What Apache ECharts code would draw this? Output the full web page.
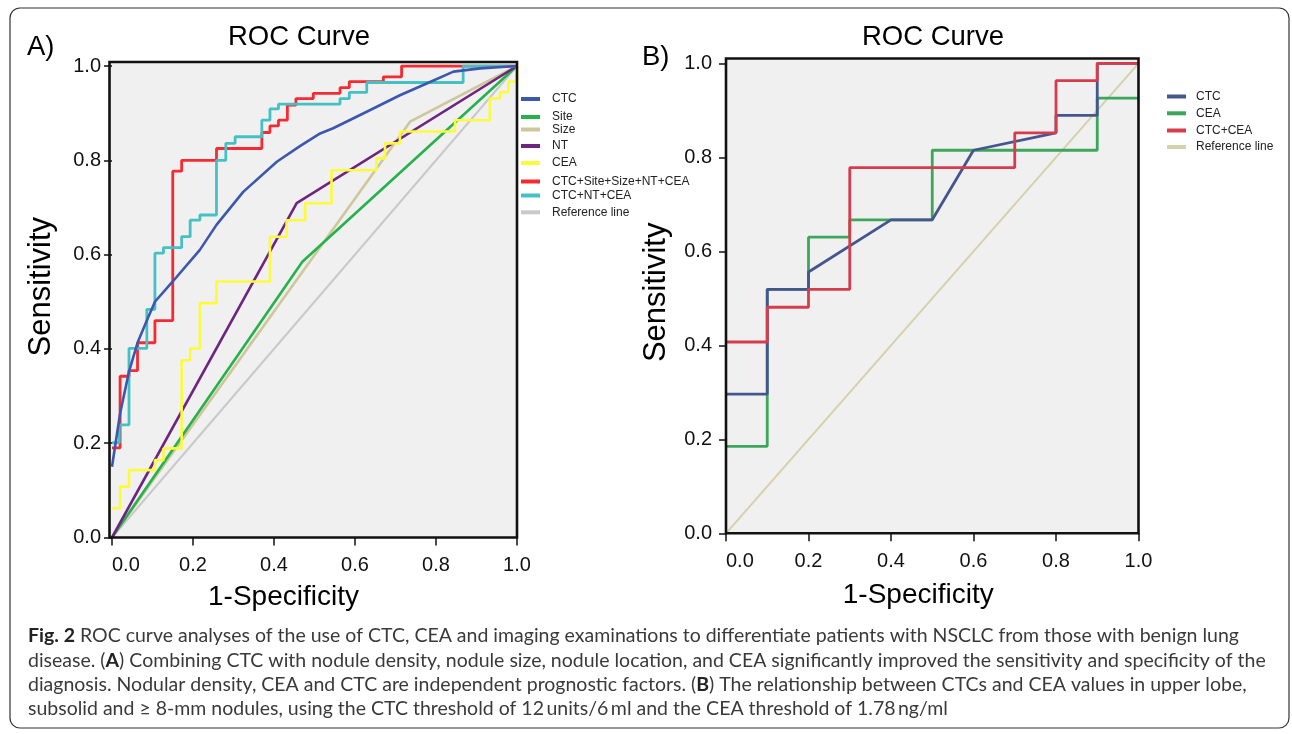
<!DOCTYPE html>
<html><head><meta charset="utf-8">
<script src="https://cdn.jsdelivr.net/npm/echarts@6/dist/echarts.min.js"></script>
<style>html,body{margin:0;padding:0;background:#fff}#c{width:1292px;height:734px}</style>
</head><body><div id="c"></div>
<script>
// ---------- DATA ----------
const tickLabels = ['0.0', '0.2', '0.4', '0.6', '0.8', '1.0'];

// Panel A series (x = 1-Specificity, y = Sensitivity)
const namesA = ['CTC', 'Site', 'Size', 'NT', 'CEA', 'CTC+Site+Size+NT+CEA', 'CTC+NT+CEA', 'Reference line'];
const ctcA = [[0,0.15],[0.02,0.263],[0.042,0.352],[0.063,0.413],[0.086,0.46],[0.106,0.5],[0.15,0.543],[0.217,0.61],[0.258,0.663],[0.324,0.733],[0.407,0.797],[0.464,0.83],[0.514,0.857],[0.546,0.868],[0.629,0.903],[0.711,0.938],[0.777,0.963],[0.843,0.988],[0.909,0.995],[1,1]];
const siteA = [[0,0],[0.47,0.585],[1,1]];
const sizeA = [[0,0],[0.736,0.882],[1,1]];
const ntA = [[0,0],[0.456,0.709],[1,1]];
const ceaA = [[0,0.062],[0.02,0.062],[0.02,0.108],[0.042,0.108],[0.042,0.143],[0.106,0.143],[0.106,0.164],[0.127,0.164],[0.127,0.189],[0.172,0.189],[0.172,0.376],[0.193,0.376],[0.193,0.401],[0.217,0.401],[0.217,0.497],[0.258,0.497],[0.258,0.543],[0.39,0.543],[0.39,0.638],[0.431,0.638],[0.431,0.673],[0.477,0.673],[0.477,0.709],[0.542,0.709],[0.542,0.779],[0.653,0.779],[0.653,0.804],[0.674,0.804],[0.674,0.836],[0.711,0.836],[0.711,0.861],[0.847,0.861],[0.847,0.885],[0.933,0.885],[0.933,0.931],[0.958,0.931],[0.958,0.945],[0.979,0.945],[0.979,0.967],[1,0.967],[1,1]];
const allA = [[0,0.19],[0.02,0.19],[0.02,0.342],[0.042,0.342],[0.042,0.354],[0.063,0.354],[0.063,0.413],[0.106,0.413],[0.106,0.46],[0.15,0.46],[0.15,0.777],[0.172,0.777],[0.172,0.8],[0.258,0.8],[0.258,0.825],[0.37,0.825],[0.37,0.859],[0.39,0.859],[0.39,0.873],[0.411,0.873],[0.411,0.885],[0.433,0.885],[0.433,0.917],[0.454,0.917],[0.454,0.931],[0.497,0.931],[0.497,0.942],[0.563,0.942],[0.563,0.954],[0.586,0.954],[0.586,0.967],[0.67,0.967],[0.67,0.977],[0.715,0.977],[0.715,1],[1,1]];
const ctcNtCeaA = [[0,0.201],[0.018,0.201],[0.018,0.239],[0.042,0.239],[0.042,0.401],[0.086,0.401],[0.086,0.484],[0.106,0.484],[0.106,0.603],[0.127,0.603],[0.127,0.615],[0.172,0.615],[0.172,0.638],[0.193,0.638],[0.193,0.673],[0.217,0.673],[0.217,0.684],[0.258,0.684],[0.258,0.8],[0.281,0.8],[0.281,0.836],[0.304,0.836],[0.304,0.85],[0.37,0.85],[0.37,0.885],[0.39,0.885],[0.39,0.909],[0.411,0.909],[0.411,0.919],[0.563,0.919],[0.563,0.931],[0.586,0.931],[0.586,0.944],[0.629,0.944],[0.629,0.965],[0.867,0.965],[0.867,1],[1,1]];
const refA = [[0,0],[1,1]];

// Panel B series
const namesB = ['CTC', 'CEA', 'CTC+CEA', 'Reference line'];
const ctcB = [[0,0.296],[0.1,0.296],[0.1,0.519],[0.2,0.519],[0.2,0.556],[0.4,0.667],[0.5,0.667],[0.6,0.815],[0.8,0.852],[0.8,0.889],[0.9,0.889],[0.9,1],[1,1]];
const ceaB = [[0,0.185],[0.1,0.185],[0.1,0.519],[0.2,0.519],[0.2,0.63],[0.3,0.63],[0.3,0.667],[0.5,0.667],[0.5,0.815],[0.9,0.815],[0.9,0.926],[1,0.926]];
const ctcCeaB = [[0,0.407],[0.1,0.407],[0.1,0.481],[0.2,0.481],[0.2,0.519],[0.3,0.519],[0.3,0.778],[0.7,0.778],[0.7,0.852],[0.8,0.852],[0.8,0.963],[0.9,0.963],[0.9,1],[1,1]];
const refB = [[0,0],[1,1]];

// ---------- STYLE ----------
const FONT = '"Liberation Sans", Arial, sans-serif';
const CAPFONT = 'Lato, "Open Sans", sans-serif';
const colorsA = ['#3b57ae', '#25b24a', '#cdc79b', '#6e2580', '#fbfb3c', '#f52a33', '#45c0c4', '#c9c9c9'];
const colorsB = ['#45568e', '#3ea65a', '#d63c4c', '#d3d2aa'];

const chart = echarts.init(document.getElementById('c'), null, {width: 1292, height: 734});

const gridA = {left: 112, top: 66, width: 405, height: 471.5};
const gridB = {left: 726, top: 63.3, width: 412.5, height: 470};

function xAx(gi, gap, margin, shift) {
  return {type: 'value', gridIndex: gi, min: 0, max: 1, interval: 0.2,
    name: '1-Specificity', nameLocation: 'middle', nameGap: gap,
    nameTextStyle: {fontFamily: FONT, fontSize: 28, color: '#000', padding: [0, shift, 0, 0]},
    axisLine: {show: false},
    axisTick: {show: true, length: 8, lineStyle: {color: '#111', width: 1.5}},
    axisLabel: {margin: margin, fontFamily: FONT, fontSize: 20, color: '#111', alignMinLabel: 'left',
      formatter: v => tickLabels[Math.round(v * 5)]},
    splitLine: {show: false}};
}
function yAx(gi, gap, margin, tl, shift) {
  return {type: 'value', gridIndex: gi, min: 0, max: 1, interval: 0.2,
    name: 'Sensitivity', nameLocation: 'middle', nameGap: gap,
    nameTextStyle: {fontFamily: FONT, fontSize: 31, color: '#000', padding: [0, 0, 0, shift]},
    axisLine: {show: false},
    axisTick: {show: true, length: tl, lineStyle: {color: '#111', width: 1.5}},
    axisLabel: {margin: margin, fontFamily: FONT, fontSize: 20, color: '#111',
      formatter: v => tickLabels[Math.round(v * 5)]},
    splitLine: {show: false}};
}

function ser(name, data, color, width, gi, z) {
  return {type: 'line', name: name, data: data, xAxisIndex: gi, yAxisIndex: gi,
    symbol: 'none', silent: true, z: z,
    lineStyle: {color: color, width: width}, itemStyle: {color: color}};
}

const dataA = [ctcA, siteA, sizeA, ntA, ceaA, allA, ctcNtCeaA, refA];
const widthsA = [2.6, 2.6, 2.6, 2.6, 2.6, 2.8, 2.8, 2];
const zA = [9, 4, 3, 5, 6, 7, 8, 2];
const dataB = [ctcB, ceaB, ctcCeaB, refB];
const zB = [4, 3, 5, 2];

const series = [];
namesA.forEach((n, i) => series.push(ser(n, dataA[i], colorsA[i], widthsA[i], 0, zA[i])));
namesB.forEach((n, i) => series.push(ser(n, dataB[i], colorsB[i], i === 3 ? 2 : 2.8, 1, zB[i])));

const legendTopA = [100, 118, 130.5, 147, 164, 182.5, 196.5, 213.3];
const legendTopB = [97.5, 114.3, 131.5, 148];
const legends = [];
namesA.forEach((n, i) => legends.push({
  left: 521, top: legendTopA[i] - 7, padding: 0, icon: 'rect', itemWidth: 19, itemHeight: 4,
  selectedMode: false, data: [{name: n, itemStyle: {color: colorsA[i]}}],
  textStyle: {fontFamily: FONT, fontSize: 12, color: '#222', padding: [0, 0, 0, 7]}
}));
namesB.forEach((n, i) => legends.push({
  left: 1167, top: legendTopB[i] - 7, padding: 0, icon: 'rect', itemWidth: 19, itemHeight: 4,
  selectedMode: false, data: [{name: n, itemStyle: {color: colorsB[i]}}],
  textStyle: {fontFamily: FONT, fontSize: 12, color: '#222', padding: [0, 0, 0, 5]}
}));

const titleStyle = {fontFamily: FONT, fontSize: 27.5, fontWeight: 'normal', color: '#000'};
const titles = [
  {text: 'ROC Curve', left: 299, top: 37, textAlign: 'center', textVerticalAlign: 'middle', padding: 0, textStyle: titleStyle},
  {text: 'A)', left: 27, top: 47, textAlign: 'left', textVerticalAlign: 'middle', padding: 0, textStyle: titleStyle},
  {text: 'ROC Curve', left: 933, top: 37, textAlign: 'center', textVerticalAlign: 'middle', padding: 0, textStyle: titleStyle},
  {text: 'B)', left: 642, top: 57, textAlign: 'left', textVerticalAlign: 'middle', padding: 0, textStyle: titleStyle}
];

const capLines = [
  '{b|Fig. 2} ROC curve analyses of the use of CTC, CEA and imaging examinations to differentiate patients with NSCLC from those with benign lung',
  'disease. ({b|A}) Combining CTC with nodule density, nodule size, nodule location, and CEA significantly improved the sensitivity and specificity of the',
  'diagnosis. Nodular density, CEA and CTC are independent prognostic factors. ({b|B}) The relationship between CTCs and CEA values in upper lobe,',
  'subsolid and \u2265 8-mm nodules, using the CTC threshold of 12\u2009units/6\u2009ml and the CEA threshold of 1.78\u2009ng/ml'
];
const capY = [636, 660.5, 685, 709];

const graphics = [
  {type: 'rect', z: 0, silent: true, shape: {x: 10, y: 8, width: 1279, height: 720, r: 10},
   style: {fill: 'none', stroke: '#333', lineWidth: 1.2}},
  {type: 'rect', z: 0, silent: true, shape: {x: 109.5, y: 62, width: 407.5, height: 475.5},
   style: {fill: '#f0f0f0'}},
  {type: 'rect', z: 100, silent: true, shape: {x: 109.5, y: 62, width: 407.5, height: 475.5},
   style: {fill: 'none', stroke: '#111', lineWidth: 2.6}},
  {type: 'rect', z: 0, silent: true, shape: {x: 726, y: 58.5, width: 412.5, height: 474.8},
   style: {fill: '#f0f0f0'}},
  {type: 'rect', z: 100, silent: true, shape: {x: 726, y: 58.5, width: 412.5, height: 474.8},
   style: {fill: 'none', stroke: '#111', lineWidth: 2.6}}
];
capLines.forEach((t, i) => graphics.push({
  type: 'text', z: 100, silent: true, x: 28, y: capY[i],
  style: {text: t, fontFamily: CAPFONT, fontSize: 19.5, fill: '#3a3a3a', verticalAlign: 'middle', align: 'left',
    rich: {b: {fontFamily: CAPFONT, fontSize: 19.5, fontWeight: 'bold', fill: '#222'}}}
}));

chart.setOption({
  animation: false,
  backgroundColor: '#fff',
  title: titles,
  legend: legends,
  grid: [gridA, gridB],
  xAxis: [xAx(0, 46, 18, 62), xAx(1, 48, 18, 28)],
  yAxis: [yAx(0, 55, 11, 8, 30), yAx(1, 54, 14, 7, 12)],
  series: series,
  graphic: {elements: graphics}
});
</script>
</body></html>
